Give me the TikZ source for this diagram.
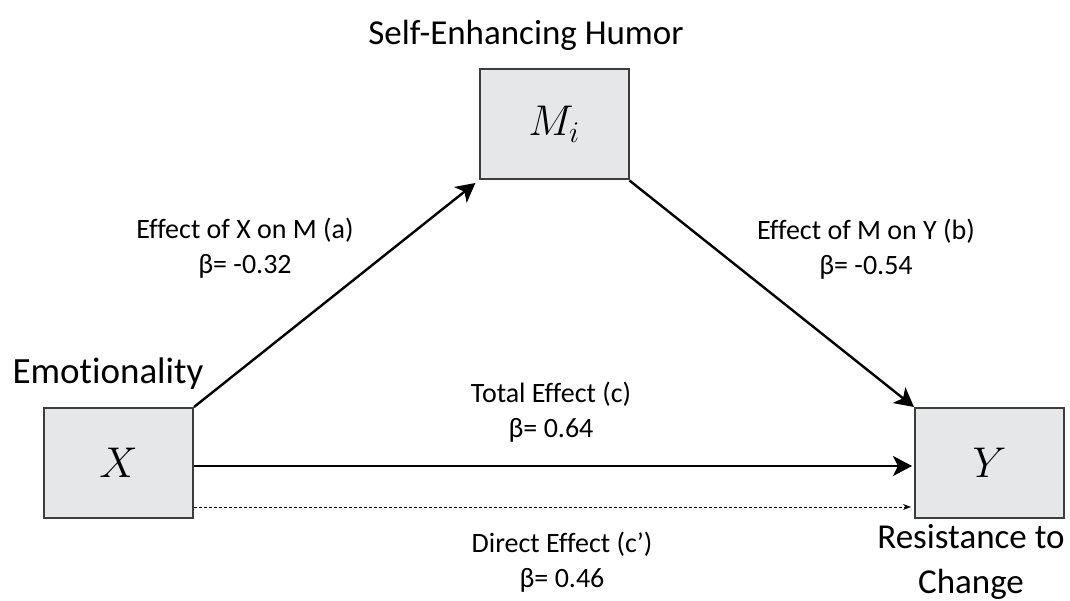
\documentclass[tikz,border=0pt]{standalone}
\usepackage{fix-cm}
\usepackage{fontspec}
\setmainfont{Carlito}[Ligatures=NoCommon]
\usetikzlibrary{arrows.meta}
\definecolor{boxfill}{HTML}{E6E7E9}
\definecolor{boxline}{HTML}{3D3D3D}
\begin{document}
\begin{tikzpicture}[x=1pt,y=-1pt,
    var/.style={draw=boxline,fill=boxfill,line width=2pt,minimum width=149pt,minimum height=110pt,inner sep=0pt,font=\fontsize{43}{50}\selectfont},
    effect/.style={line width=2.4pt,-{Stealth[length=19pt,width=20pt,inset=5pt]}},
    direct/.style={line width=0.9pt,dash pattern=on 3pt off 2pt,-{Stealth[length=8pt,width=6pt]}},
    lab/.style={align=center,inner sep=0pt,font=\fontsize{28}{35}\selectfont},
    varname/.style={anchor=base,inner sep=0pt,font=\fontsize{35}{45}\selectfont}]
    \useasboundingbox (0,0) rectangle (1070,601);
    % variables
    \node[var] (X) at (118.5,463) {$X$};
    \node[var] (M) at (554,124.5) {$M_i$};
    \node[var] (Y) at (989.5,463) {$Y$};
    \node[varname] (mname) at (526,45) {Self-Enhancing Humor};
    \node[varname,font=\fontsize{37}{45}\selectfont] (xname) at (108,383) {Emotionality};
    \node[varname,align=center] (yname) at (971,593) {Resistance to\\Change};
    % paths
    \draw[effect,shorten >=4pt] (X.north east) -- (M.south west);
    \draw[effect] (M.south east) -- (Y.north west);
    \draw[effect,shorten >=2pt] ([yshift=-3pt]X.east) -- ([yshift=-3pt]Y.west);
    \draw[direct,shorten >=3pt] ([yshift=-44pt]X.east) -- ([yshift=-44pt]Y.west);
    % coefficients
    \node[lab] (a) at (245,248) {Effect of X on M (a)\\β= -0.32};
    \node[lab] (b) at (866,249) {Effect of M on Y (b)\\β= -0.54};
    \node[lab] (c) at (551,412) {Total Effect (c)\\β= 0.64};
    \node[lab] (cp) at (562,562) {Direct Effect (c’)\\β= 0.46};
\end{tikzpicture}
\end{document}
